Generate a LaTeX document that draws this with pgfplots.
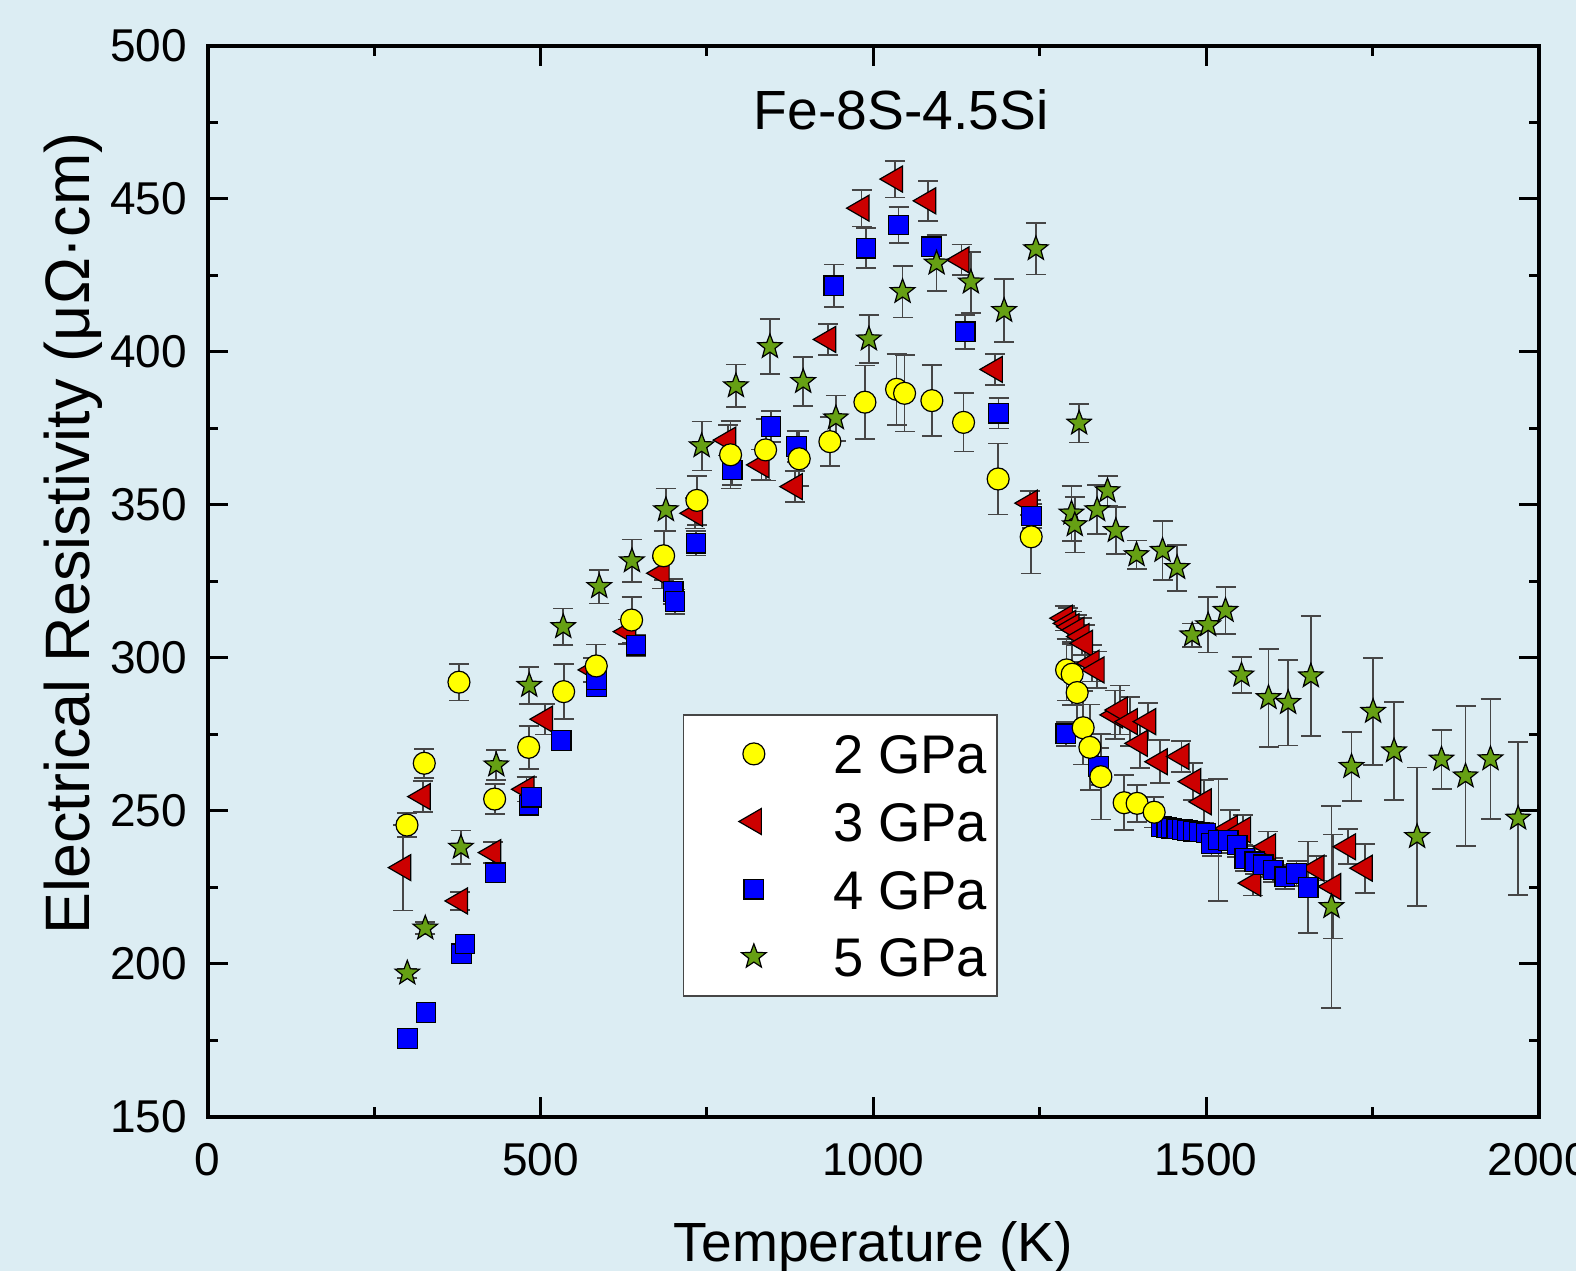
\documentclass[border=0pt]{standalone}
\usepackage{pgfplots}
\pgfplotsset{compat=1.18}
\usepackage{pgfplotstable}
\usepackage{fontspec}
\setmainfont{Liberation Sans}
\definecolor{bg}{RGB}{220,237,243}
\definecolor{cyel}{RGB}{255,255,0}
\definecolor{cred}{RGB}{204,0,0}
\definecolor{cblue}{RGB}{0,0,255}
\definecolor{cgreen}{RGB}{102,160,20}
\definecolor{errc}{RGB}{70,70,70}

\pgfdeclareplotmark{fstar}{%
 \pgfpathmoveto{\pgfpointpolar{90}{\pgfplotmarksize}}%
 \pgfpathlineto{\pgfpointpolar{126}{0.42\pgfplotmarksize}}%
 \pgfpathlineto{\pgfpointpolar{162}{\pgfplotmarksize}}%
 \pgfpathlineto{\pgfpointpolar{198}{0.42\pgfplotmarksize}}%
 \pgfpathlineto{\pgfpointpolar{234}{\pgfplotmarksize}}%
 \pgfpathlineto{\pgfpointpolar{270}{0.42\pgfplotmarksize}}%
 \pgfpathlineto{\pgfpointpolar{306}{\pgfplotmarksize}}%
 \pgfpathlineto{\pgfpointpolar{342}{0.42\pgfplotmarksize}}%
 \pgfpathlineto{\pgfpointpolar{18}{\pgfplotmarksize}}%
 \pgfpathlineto{\pgfpointpolar{54}{0.42\pgfplotmarksize}}%
 \pgfpathclose\pgfusepathqfillstroke}

\pgfplotstableread{
T V E
299.4 245.4 4
325.4 265.6 4.7
377.5 292.1 6
431.1 253.9 5
482.2 270.8 7
534.8 289 9
583.8 297.4 7
636.9 312.4 7.5
685 333.4 8
735 351.5 8
785.6 366.4 11
838.2 368 10
888.7 365.1 9
934.8 370.7 8
987.4 383.6 12
1035 387.8 11.6
1047 386.5 12.5
1088 384.1 11.6
1135.6 377 9.5
1187.6 358.5 11.6
1237.2 339.6 12
1290.4 296.1 10
1298.8 294.7 10
1306.3 288.7 10
1315.3 277.2 12
1325.4 270.8 14
1341.9 261.2 14
1376.9 252.7 9
1396.4 252.5 6
1422 249.6 5
}\dataA

\pgfplotstableread{
T V E
293.9 231.5 14
323 254.7 5
379 220.6 3
429 236.4 3.5
479 257.1 4
506.7 280 5
579 296.1 4
631.8 308.6 4
682 327.7 5
732 347.3 5
782 371.2 5
832 363.1 5
882.2 356 5
932.3 404.1 5
982.4 447 6
1032.5 456.5 6
1082.5 449.4 6.5
1132.6 430.1 5
1182.7 394.3 5
1235.2 350.6 4
1287.8 313 4
1292.8 311.3 5
1297.8 310.2 5
1305.4 309.1 5
1313 307 6
1318 304.8 6
1328 298.3 6
1335.5 296.1 6
1363 281.4 8
1370.5 283 8
1385.5 279.2 8
1400.5 272.1 8
1413 279.2 6
1430.5 266.1 7
1463 267.8 5
1480.6 259.6 6
1496.6 253 7
1535.7 244.3 6
1555.6 243.8 5
1570.7 226.4 4
1593.2 238.3 5
1665.9 231.3 4
1690.9 225.3 17
1713.4 238.3 5.7
1738.5 231.3 8
}\dataB

\pgfplotstableread{
T V E
299.9 175.7 1.5
328 184.1 1.5
381.5 203.3 2
386.5 206.5 2
432.6 229.8 2.5
482.6 251.9 3
486.7 254.5 3
531.2 273 3
584.3 290.5 3
584.3 293 3
643.4 304.2 3.5
699.5 321.7 4
702 318.4 4
733.5 337.5 4
788 361.4 5
846.2 375.6 5
884.8 369.1 5
940.8 421.6 7
988.9 433.9 6.5
1038 441.5 6
1087.6 434.4 3
1138 406.6 5.5
1188.2 380 5
1237.8 346.4 4
1289.3 275.2 4
1338.4 264.5 6
1433 244.9 3
1441 244.6 3
1448 244.4 3
1456 244.1 3
1464 243.9 3
1472 243.6 3
1481 243.4 3
1490 243.1 3
1500 242.8 3
1508.2 239.4 4
1518.6 240.5 20
1533.1 240.3 4
1546.7 238.9 4
1558.2 234.5 4
1573.2 233.4 4
1585.8 232.4 4
1600.8 230.7 4
1618.3 228.5 4
1635.9 229.6 4
1653.4 225 15
}\dataC

\pgfplotstableread{
T V E
299.9 197 1.5
326.9 211.7 2
380.5 238.1 5.5
433.6 265 5
483.1 291 6
534.2 310.2 6
588.3 323.3 5.5
637.4 331.7 7
688.4 348.4 7
742.1 369.3 8
793.6 388.9 7
844.7 401.7 9
894.7 390.3 8
943.8 378.4 7.4
993.4 404.2 7.8
1044 419.7 8.4
1095.1 429 9.2
1146.6 422.8 10
1196.6 413.5 10.3
1244.3 433.7 8.4
1297.8 347.3 9
1302.7 343.5 9
1309.3 376.7 6.3
1336.3 348.4 8
1351.9 354.6 5
1364.4 341.6 7.7
1395.5 333.7 4.7
1434.6 335.1 9.6
1456.5 329.5 7.5
1479.1 307.5 3.8
1503.1 310.8 9
1529.2 315.5 7.6
1553.2 294.4 5.8
1593.8 287 16
1623.3 285.4 14
1657.4 294.1 19.5
1688.4 218.7 33
1718.5 264.5 11.3
1750.9 282.5 17.6
1782.4 269.6 16
1817 241.6 22.6
1853.7 266.9 9.6
1889.8 261.4 22.8
1927.3 267 19.6
1968.8 247.6 25
}\dataD

\pgfplotsset{
 errstyle/.style={error bars/.cd, y dir=both, y explicit,
   error bar style={errc, line width=0.45pt},
   error mark options={errc, rotate=90, line width=0.45pt, mark size=2.5pt}},
 sA/.style={only marks, mark=*, mark size=2.75pt, mark options={fill=cyel, draw=black, line width=0.3pt}},
 sB/.style={only marks, mark=triangle*, mark size=3.75pt, mark options={rotate=90, fill=cred, draw=black, line width=0.3pt}},
 sC/.style={only marks, mark=square*, mark size=2.45pt, mark options={fill=cblue, draw=black, line width=0.3pt}},
 sD/.style={only marks, mark=fstar, mark size=3.2pt, mark options={fill=cgreen, draw=black, line width=0.3pt}},
}

\begin{document}
\begin{tikzpicture}
\fill[bg] (-51.925pt,-38.5pt) rectangle (342.075pt,279.25pt);
\begin{axis}[
 scale only axis, width=332.8pt, height=267.75pt,
 xmin=0, xmax=2000, ymin=150, ymax=500,
 xtick={0,500,...,2000}, ytick={150,200,...,500},
 minor x tick num=1, minor y tick num=1,
 tick align=inside,
 major tick length=5pt, minor tick length=2.5pt,
 axis line style={line width=1pt},
 major tick style={black, line width=0.75pt},
 minor tick style={black, line width=0.75pt},
 /pgf/number format/assume math mode=true,
 /pgf/number format/1000 sep={},
 tick label style={font=\fontsize{11.5}{13}\selectfont},
 xticklabel style={yshift=-3pt},
 yticklabel style={xshift=-1.6pt},
 xlabel={Temperature (K)},
 ylabel={Electrical Resistivity (μΩ·cm)},
 xlabel style={at={(axis description cs:0.5,-0.1345)}, anchor=base, font=\fontsize{13.8}{16}\selectfont},
 ylabel style={at={(axis description cs:-0.0888,0.545)}, anchor=base, rotate=0, font=\fontsize{15.7}{18}\selectfont},
 legend style={at={(axis description cs:0.3568,0.1123)}, anchor=south west,
   fill=white, draw=errc, line width=0.4pt, inner xsep=0pt, inner ysep=4.8pt,
   row sep=6.9pt, font=\fontsize{13.6}{16}\selectfont,
   nodes={inner xsep=2.5pt, inner ysep=0pt, text height=10pt, text depth=0pt}},
 legend cell align=left,
 legend image code/.code={\path (0pt,0pt) (34.5pt,0pt); \draw[#1] plot coordinates {(17.4pt,0pt)};},
 clip=false,
]
\addlegendimage{sA}\addlegendentry{2 GPa}
\addlegendimage{sB}\addlegendentry{3 GPa}
\addlegendimage{sC}\addlegendentry{4 GPa}
\addlegendimage{sD}\addlegendentry{5 GPa}
\addplot[sB, forget plot, errstyle] table[x=T, y=V, y error=E] {\dataB};
\addplot[sC, forget plot, errstyle] table[x=T, y=V, y error=E] {\dataC};
\addplot[sD, forget plot, errstyle] table[x=T, y=V, y error=E] {\dataD};
\addplot[sA, forget plot, errstyle] table[x=T, y=V, y error=E] {\dataA};
\node[font=\fontsize{13.8}{16}\selectfont, anchor=base] at (axis description cs:0.521,0.922) {Fe-8S-4.5Si};
\end{axis}
\pgfresetboundingbox
\path[use as bounding box] (-51.925pt,-38.5pt) rectangle (342.075pt,279.25pt);
\end{tikzpicture}
\end{document}
